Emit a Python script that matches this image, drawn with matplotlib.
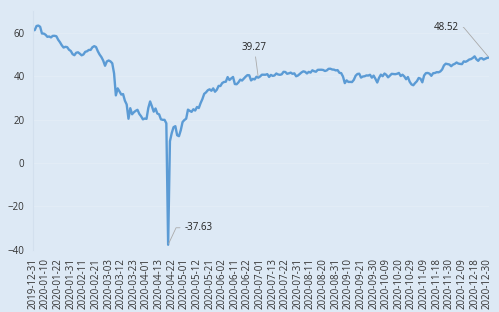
import matplotlib
matplotlib.use('Agg')
import matplotlib.pyplot as plt
import numpy as np
import pandas as pd

# NYSE holidays in 2020 (no trading rows)
holidays = ['2020-01-01', '2020-01-20', '2020-02-17', '2020-04-10', '2020-05-25',
            '2020-07-03', '2020-09-07', '2020-11-26', '2020-12-25']

# WTI daily prices, 2019-12-31 .. 2020-12-31
jan = [61.06,
       61.18, 63.05, 63.27, 62.70, 59.61, 59.56, 59.04, 58.08, 58.23, 57.81, 58.52,
       58.54, 58.34, 56.74, 55.59, 54.19, 53.14, 53.48, 53.33, 52.14, 51.56]
feb = [50.11, 49.61, 50.75, 50.95, 50.32, 49.57, 49.94, 51.17, 51.42, 52.05, 52.05,
       53.29, 53.78, 53.38, 51.43, 49.90, 48.73, 47.09, 44.76]
mar = [46.75, 47.18, 46.78, 45.90, 41.28, 31.13, 34.36, 32.98, 31.50, 31.73, 28.70,
       26.95, 20.37, 25.22, 22.43, 23.36, 24.01, 24.49, 22.60, 21.51, 20.09, 20.48]
apr = [20.31, 25.32, 28.34, 26.08, 23.63, 25.09, 22.76, 22.41, 20.11, 19.87, 19.87,
       18.27, -37.63, 10.01, 13.78, 16.50, 16.94, 12.78, 12.34, 15.06, 18.84]
may = [19.78, 20.39, 24.56, 23.99, 23.55, 24.74, 24.14, 25.78, 25.29, 27.56, 29.43,
       31.82, 32.50, 33.49, 33.92, 33.25, 34.35, 32.81, 33.71, 35.49]
jun = [35.44, 36.81, 37.29, 37.41, 39.55, 38.19, 38.94, 39.60, 36.34, 36.26, 37.12,
       38.38, 37.96, 38.84, 39.75, 40.46, 40.37, 38.01, 38.72, 38.49, 39.70, 39.27]
jul = [39.82, 40.65, 40.63, 40.62, 40.90, 39.62, 40.55, 40.10, 40.29, 41.20, 40.75,
       40.59, 40.81, 41.96, 41.90, 41.07, 41.29, 41.60, 41.04, 41.27, 39.92, 40.27]
aug = [41.01, 41.70, 42.19, 41.95, 41.22, 41.94, 41.61, 42.67, 42.24, 42.01, 42.89,
       42.89, 42.93, 42.82, 42.34, 42.62, 43.35, 43.39, 43.04, 42.97, 42.61]
sep = [42.76, 41.51, 41.37, 39.77, 36.76, 38.05, 37.30, 37.33, 37.26, 38.28, 40.16,
       40.97, 41.11, 39.31, 39.80, 39.93, 40.31, 40.25, 40.60, 39.29, 40.22]
oct_ = [38.72, 37.05, 39.22, 40.67, 39.95, 41.19, 40.60, 39.43, 40.20, 41.04, 40.96,
        40.88, 41.06, 41.46, 40.03, 40.64, 39.85, 38.56, 39.57, 37.39, 36.17, 35.79]
nov = [36.81, 37.66, 39.15, 38.79, 37.14, 40.29, 41.36, 41.45, 41.12, 40.13, 41.34,
       41.43, 41.82, 41.74, 42.15, 43.06, 44.91, 45.71, 45.53, 45.34]
dec = [44.55, 45.28, 45.64, 46.26, 45.76, 45.60, 45.52, 46.78, 46.57, 46.99, 47.62,
       47.82, 48.36, 49.10, 47.74, 47.02, 48.12, 48.23, 47.62, 48.00, 48.40, 48.52]

prices = jan + feb + mar + apr + may + jun + jul + aug + sep + oct_ + nov + dec

days = pd.bdate_range('2020-01-02', '2020-12-31', freq='C', holidays=holidays)
dates = ['2019-12-31'] + [d.strftime('%Y-%m-%d') for d in days]
assert len(dates) == len(prices)

# labelled points
note_dates = ['2020-04-20', '2020-06-30', '2020-12-31']

bg = '#dde9f5'
fig = plt.figure(figsize=(4.99, 3.12), dpi=100, facecolor=bg)
ax = fig.add_axes([0.066, 0.199, 0.914, 0.766], facecolor=bg)

x = np.arange(len(prices))
ax.plot(x, prices, color='#5b9bd5', lw=1.7, solid_joinstyle='round')

ax.set_xlim(0, len(prices) - 1)
ax.set_ylim(-40, 70)
ax.set_yticks([-40, -20, 0, 20, 40, 60])
ax.set_xticks(x[::7])
ax.set_xticklabels(dates[::7], rotation=90)
ax.tick_params(axis='both', length=0, labelsize=7, colors='#333333', pad=6)
for lab in ax.get_xticklabels() + ax.get_yticklabels():
    lab.set_fontfamily('Open Sans')

ax.yaxis.grid(True, color='#e4edf7', lw=0.6)
ax.set_axisbelow(True)
for s in ['top', 'right', 'bottom']:
    ax.spines[s].set_visible(False)
ax.spines['left'].set_color('#d3e0ee')
ax.spines['left'].set_linewidth(0.8)

txt = dict(fontsize=7, family='Open Sans', color='#222222', textcoords='offset pixels')
lead = dict(arrowstyle='-', color='#aaaaaa', lw=0.6, shrinkA=1, shrinkB=1)

# -37.63: text to the upper right, leader goes up-right then short flat piece
i = dates.index(note_dates[0])
ax.annotate(f'{prices[i]:.2f}', xy=(i, prices[i]), xytext=(16, 17), va='center', ha='left',
            arrowprops=dict(lead, connectionstyle='angle,angleA=0,angleB=65,rad=0'), **txt)

# 39.27: text above, nearly vertical leader
i = dates.index(note_dates[1])
ax.annotate(f'{prices[i]:.2f}', xy=(i, prices[i]), xytext=(-4, 25), va='bottom', ha='center',
            arrowprops=lead, **txt)

# 48.52: text to the upper left, leader flat then down-right
i = dates.index(note_dates[2])
ax.annotate(f'{prices[i]:.2f}', xy=(i, prices[i]), xytext=(-30, 30), va='center', ha='right',
            arrowprops=dict(lead, connectionstyle='angle,angleA=0,angleB=130,rad=0'), **txt)

fig.savefig('out.png', dpi=100, facecolor=bg)
